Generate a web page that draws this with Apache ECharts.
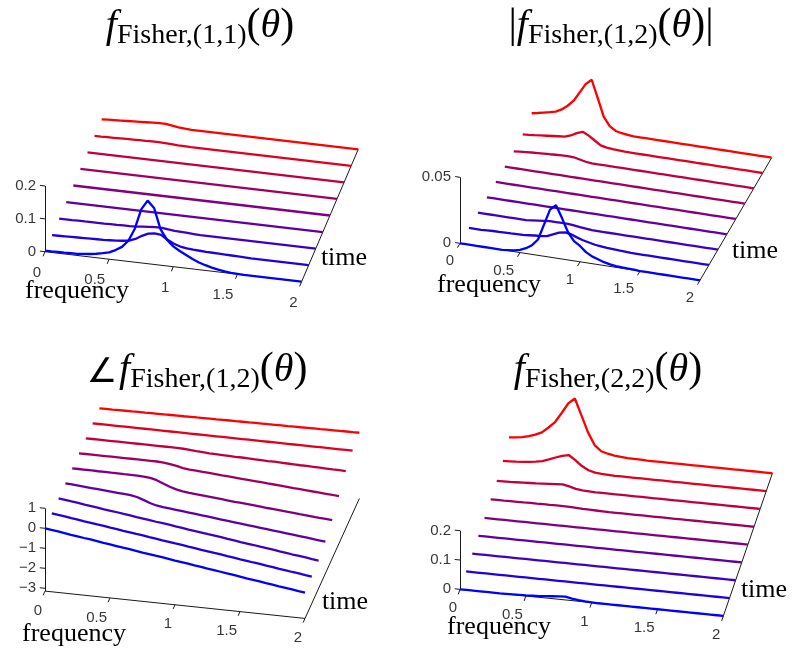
<!DOCTYPE html>
<html><head><meta charset="utf-8">
<script src="https://cdn.jsdelivr.net/npm/echarts@6/dist/echarts.min.js"></script>
<style>html,body{margin:0;padding:0;background:#fff}#c{width:794px;height:653px}</style>
</head><body><div id="c"></div>
<script>
// ---------------- data ----------------
const freq = [0,0.05,0.1,0.15,0.2,0.25,0.3,0.35,0.4,0.45,0.5,0.55,0.6,0.65,0.7,0.75,0.8,0.85,0.9,0.95,1,
  1.05,1.1,1.15,1.2,1.25,1.3,1.35,1.4,1.45,1.5,1.55,1.6,1.65,1.7,1.75,1.8,1.85,1.9,1.95,2];
const timeIndex = [0,1,2,3,4,5,6,7,8];
const freqTicks = [0,0.5,1,1.5,2];
const freqTickLabels = ['0','0.5','1','1.5','2'];
const ticks11 = [0,0.1,0.2];      const tickLabels11 = ['0','0.1','0.2'];
const ticks12abs = [0,0.05];      const tickLabels12abs = ['0','0.05'];
const ticks12ang = [-3,-2,-1,0,1]; const tickLabels12ang = ['\u22123','\u22122','\u22121','0','1'];
const ticks22 = [0,0.1,0.2];      const tickLabels22 = ['0','0.1','0.2'];

// f_Fisher,(1,1): one row per time step (t = 0 ... 8)
const fisher11 = [
 [0.003,0.003,0.004,0.004,0.005,0.005,0.007,0.009,0.012,0.016,0.021,0.03,0.042,0.063,0.102,0.163,0.192,0.172,0.11,0.08,0.062,0.05,0.04,0.03,0.022,0.016,0.011,0.007,0.004,0.002,0.001,0,0,0,0,0,0,0,0,0,0],
 [0,0.0005,0.001,0.0015,0.002,0.0025,0.003,0.0035,0.004,0.005,0.006,0.008,0.011,0.018,0.03,0.039,0.042,0.04,0.027,0.017,0.011,0.008,0.006,0.005,0.004,0.0035,0.003,0.0025,0.002,0.0015,0.001,0,0,0,0,0,0,0,0,0,0],
 [0,0,0,0.0005,0.0005,0.001,0.001,0.001,0.0015,0.0015,0.002,0.002,0.003,0.005,0.007,0.008,0.008,0.006,0.004,0.003,0.002,0.001,0,0,0,0,0,0,0,0,0,0,0,0,0,0,0,0,0,0,0],
 [0,0,0,0,0,0,0,0,0,0,0,0,0,0,0,0,0,0,0,0,0,0,0,0,0,0,0,0,0,0,0,0,0,0,0,0,0,0,0,0,0],
 [0,0,0,0,0,0,0,0,0,0,0,0,0,0,0,0,0,0,0,0,0,0,0,0,0,0,0,0,0,0,0,0,0,0,0,0,0,0,0,0,0],
 [0,0,0,0,0,0,0,0,0,0,0,0,0,0,0,0,0,0,0,0,0,0,0,0,0,0,0,0,0,0,0,0,0,0,0,0,0,0,0,0,0],
 [0,0,0,0,0,0,0,0,0,0,0,0,0,0,0,0,0,0,0,0,0,0,0,0,0,0,0,0,0,0,0,0,0,0,0,0,0,0,0,0,0],
 [0,0,0.0005,0.001,0.0015,0.002,0.0025,0.003,0.003,0.0035,0.0035,0.003,0.002,0.001,0.0005,0,0,0,0,0,0,0,0,0,0,0,0,0,0,0,0,0,0,0,0,0,0,0,0,0,0],
 [0,0.001,0.002,0.003,0.004,0.005,0.006,0.007,0.008,0.0088,0.009,0.006,0.003,0.001,0,0,0,0,0,0,0,0,0,0,0,0,0,0,0,0,0,0,0,0,0,0,0,0,0,0,0]
];
// |f_Fisher,(1,2)|
const fisher12abs = [
 [0,0,0,0,0,0,0,0,0.0005,0.001,0.002,0.004,0.007,0.012,0.024,0.036,0.04,0.031,0.021,0.015,0.012,0.008,0.0055,0.004,0.0025,0.0015,0.001,0.0007,0.0005,0.0003,0,0,0,0,0,0,0,0,0,0,0],
 [0,0,0,0.0003,0.0005,0.0005,0.0007,0.0008,0.001,0.001,0.0015,0.002,0.0022,0.003,0.005,0.007,0.0078,0.0072,0.0055,0.004,0.003,0.002,0.0015,0.001,0.0008,0.0005,0.0003,0,0,0,0,0,0,0,0,0,0,0,0,0,0],
 [0,0,0,0,0,0,0,0,0,0.0005,0.001,0.0015,0.002,0.002,0.002,0.002,0.0015,0.001,0.0005,0,0,0,0,0,0,0,0,0,0,0,0,0,0,0,0,0,0,0,0,0,0],
 [0,0,0,0,0,0,0,0,0,0,0,0,0,0,0,0,0,0,0,0,0,0,0,0,0,0,0,0,0,0,0,0,0,0,0,0,0,0,0,0,0],
 [0,0,0,0,0,0,0,0,0,0,0,0,0,0,0,0,0,0,0,0,0,0,0,0,0,0,0,0,0,0,0,0,0,0,0,0,0,0,0,0,0],
 [0,0,0,0,0,0,0,0,0,0,0,0,0,0,0,0,0,0,0,0,0,0,0,0,0,0,0,0,0,0,0,0,0,0,0,0,0,0,0,0,0],
 [0,0.0004,0.0008,0.0012,0.0015,0.0018,0.002,0.0023,0.0025,0.0027,0.0025,0.0015,0.0005,0,0,0,0,0,0,0,0,0,0,0,0,0,0,0,0,0,0,0,0,0,0,0,0,0,0,0,0],
 [0.0013,0.0016,0.002,0.0025,0.003,0.0035,0.004,0.0045,0.006,0.0085,0.0102,0.008,0.005,0.002,0.001,0.0006,0.0003,0,0,0,0,0,0,0,0,0,0,0,0,0,0,0,0,0,0,0,0,0,0,0,0],
 [0.0056,0.0065,0.0075,0.0085,0.0097,0.012,0.0155,0.02,0.027,0.034,0.038,0.025,0.0115,0.005,0.002,0.001,0.0005,0,0,0,0,0,0,0,0,0,0,0,0,0,0,0,0,0,0,0,0,0,0,0,0]
];
// angle of f_Fisher,(1,2)
const fisher12ang = [
 [0,-0.05,-0.09,-0.14,-0.19,-0.23,-0.28,-0.32,-0.37,-0.42,-0.46,-0.51,-0.56,-0.6,-0.65,-0.7,-0.74,-0.79,-0.83,-0.88,-0.93,-0.97,-1.02,-1.07,-1.11,-1.16,-1.2,-1.25,-1.3,-1.34,-1.39,-1.44,-1.48,-1.53,-1.58,-1.62,-1.67,-1.71,-1.76,-1.81,-1.85],
 [0,-0.05,-0.09,-0.14,-0.18,-0.23,-0.27,-0.32,-0.36,-0.41,-0.45,-0.5,-0.54,-0.59,-0.63,-0.68,-0.72,-0.77,-0.81,-0.86,-0.9,-0.95,-0.99,-1.04,-1.08,-1.13,-1.17,-1.22,-1.26,-1.31,-1.35,-1.4,-1.44,-1.49,-1.53,-1.58,-1.62,-1.67,-1.71,-1.76,-1.8],
 [0,-0.04,-0.09,-0.13,-0.18,-0.22,-0.26,-0.31,-0.35,-0.39,-0.44,-0.48,-0.53,-0.57,-0.61,-0.66,-0.7,-0.74,-0.79,-0.83,-0.88,-0.92,-0.96,-1.01,-1.05,-1.09,-1.14,-1.18,-1.23,-1.27,-1.31,-1.36,-1.4,-1.44,-1.49,-1.53,-1.58,-1.62,-1.66,-1.71,-1.75],
 [0,-0.025,-0.05,-0.075,-0.1,-0.125,-0.15,-0.175,-0.2,-0.225,-0.25,-0.31,-0.42,-0.54,-0.63,-0.68,-0.71,-0.745,-0.78,-0.815,-0.85,-0.885,-0.92,-0.955,-0.99,-1.025,-1.06,-1.095,-1.13,-1.165,-1.2,-1.235,-1.27,-1.305,-1.34,-1.375,-1.41,-1.445,-1.48,-1.515,-1.55],
 [0,0,-0.005,-0.005,-0.01,-0.01,-0.015,-0.015,-0.02,-0.02,-0.025,-0.035,-0.07,-0.15,-0.28,-0.41,-0.51,-0.57,-0.61,-0.64,-0.67,-0.7,-0.73,-0.76,-0.79,-0.82,-0.845,-0.87,-0.9,-0.93,-0.96,-0.985,-1.01,-1.04,-1.07,-1.1,-1.12,-1.15,-1.18,-1.2,-1.22],
 [0,0,0,0,0,0,0,0,0,0,0,0,0,-0.02,-0.06,-0.12,-0.19,-0.23,-0.25,-0.275,-0.3,-0.325,-0.35,-0.37,-0.395,-0.42,-0.445,-0.465,-0.49,-0.515,-0.535,-0.56,-0.585,-0.61,-0.63,-0.655,-0.68,-0.7,-0.725,-0.75,-0.77],
 [0,0,0,0,0,0,0,0,0,0,0,0,0,0,0,-0.01,-0.03,-0.06,-0.08,-0.1,-0.11,-0.12,-0.13,-0.14,-0.14,-0.15,-0.16,-0.17,-0.18,-0.18,-0.19,-0.2,-0.21,-0.22,-0.22,-0.23,-0.24,-0.25,-0.26,-0.26,-0.27],
 [0,0,0,0,0,0,0,0,0,0,0,0,0,0,0,0,0,0,0,0,0,0,0,0,0,0,0,0,0,0,0,0,0,0,0,0,0,0,0,0,0],
 [0,0.004,0.007,0.011,0.015,0.018,0.022,0.025,0.029,0.033,0.036,0.04,0.044,0.047,0.051,0.054,0.058,0.062,0.065,0.069,0.073,0.076,0.08,0.083,0.087,0.091,0.094,0.098,0.102,0.105,0.109,0.112,0.116,0.12,0.123,0.127,0.131,0.134,0.138,0.141,0.145]
];
// f_Fisher,(2,2)
const fisher22 = [
 [0,0,0,0,0,0,0,0.0005,0.001,0.0015,0.002,0.003,0.004,0.006,0.008,0.01,0.011,0.007,0.004,0.002,0.001,0,0,0,0,0,0,0,0,0,0,0,0,0,0,0,0,0,0,0,0],
 [0,0,0,0,0,0,0,0,0,0,0,0,0,0,0,0,0,0,0,0,0,0,0,0,0,0,0,0,0,0,0,0,0,0,0,0,0,0,0,0,0],
 [0,0,0,0,0,0,0,0,0,0,0,0,0,0,0,0,0,0,0,0,0,0,0,0,0,0,0,0,0,0,0,0,0,0,0,0,0,0,0,0,0],
 [0,0,0,0,0,0,0,0,0,0,0,0,0,0,0,0,0,0,0,0,0,0,0,0,0,0,0,0,0,0,0,0,0,0,0,0,0,0,0,0,0],
 [0,0,0,0,0,0,0,0,0,0,0,0,0,0,0,0,0,0,0,0,0,0,0,0,0,0,0,0,0,0,0,0,0,0,0,0,0,0,0,0,0],
 [0.003,0.003,0.003,0.0035,0.0035,0.0035,0.004,0.004,0.0045,0.0045,0.005,0.0045,0.004,0.003,0.002,0.0015,0.001,0.0005,0,0,0,0,0,0,0,0,0,0,0,0,0,0,0,0,0,0,0,0,0,0,0],
 [0.005,0.0055,0.006,0.007,0.008,0.009,0.01,0.0115,0.013,0.0145,0.016,0.011,0.005,0.002,0.001,0,0,0,0,0,0,0,0,0,0,0,0,0,0,0,0,0,0,0,0,0,0,0,0,0,0],
 [0.012,0.013,0.014,0.016,0.018,0.021,0.025,0.033,0.042,0.05,0.055,0.04,0.022,0.01,0.004,0.002,0.001,0,0,0,0,0,0,0,0,0,0,0,0,0,0,0,0,0,0,0,0,0,0,0,0],
 [0.032,0.034,0.037,0.043,0.05,0.06,0.079,0.1,0.133,0.168,0.187,0.132,0.076,0.035,0.016,0.01,0.006,0.0035,0.002,0.0015,0.001,0,0,0,0,0,0,0,0,0,0,0,0,0,0,0,0,0,0,0,0]
];

// ---------------- styles / layout ----------------
const traceColors = ['#0000ff','#2000df','#4000bf','#60009f','#800080','#9f0060','#bf0040','#df0020','#ff0000'];
const sansFont = 'Liberation Sans';
const serifFont = 'Liberation Serif';

// oblique 3-D view of each panel: origin, screen step per unit frequency, per time step, per unit value
const panels = [
  {vals: fisher11, ticks: ticks11, tickLabels: tickLabels11, O:[45,251.7], F:[128.3,15], T:[7.08,-16.55], V:-328.5, zmin:0, zmax:0.2,
   flOff:[-4,21], freqLab:[77,291], timeLab:[344,258]},
  {vals: fisher12abs, ticks: ticks12abs, tickLabels: tickLabels12abs, O:[460,243.3], F:[120,18.5], T:[8.96,-15.33], V:-1320, zmin:0, zmax:0.05,
   flOff:[-6,18], freqLab:[489,285], timeLab:[755,251]},
  {vals: fisher12ang, ticks: ticks12ang, tickLabels: tickLabels12ang, O:[45,528.3], F:[130,13.67], T:[6.8,-15.0], V:-20, zmin:-3.14, zmax:1,
   flOff:[-3,19.5], freqLab:[74,634], timeLab:[345,602]},
  {vals: fisher22, ticks: ticks22, tickLabels: tickLabels22, O:[460,589.3], F:[131.7,13.3], T:[6.125,-17.83], V:-293, zmin:0, zmax:0.2,
   flOff:[-3,19], freqLab:[499,627], timeLab:[764,590]}
];
function proj(p, f, t, v) {
  return [p.O[0] + f * p.F[0] + t * p.T[0], p.O[1] + f * p.F[1] + t * p.T[1] + v * p.V];
}

const series = [];
panels.forEach(p => {
  for (let t = timeIndex.length - 1; t >= 0; t--) {
    series.push({
      type: 'line', silent: true, symbol: 'none', z: 3,
      data: freq.map((f, i) => proj(p, f, timeIndex[t], p.vals[t][i])),
      lineStyle: {color: traceColors[t], width: 2.3}
    });
  }
  const segs = [
    {coords: [proj(p, 0, 0, p.zmin), proj(p, 2, 0, p.zmin)]},
    {coords: [proj(p, 2, 0, p.zmin), proj(p, 2, 8, p.zmin)]},
    {coords: [proj(p, 0, 0, p.zmin), proj(p, 0, 0, p.zmax)]}
  ];
  freqTicks.forEach(f => segs.push({coords: [proj(p, f, 0, p.zmin), proj(p, f, -0.28, p.zmin)]}));
  p.ticks.forEach(z => segs.push({coords: [proj(p, 0, 0, z), proj(p, -0.04, 0, z)]}));
  series.push({type: 'lines', coordinateSystem: 'cartesian2d', silent: true, z: 2, data: segs,
    lineStyle: {color: '#1a1a1a', width: 1, opacity: 1, curveness: 0}});
  series.push({type: 'scatter', silent: true, symbolSize: 0, z: 4,
    data: freqTicks.map((f, i) => ({name: freqTickLabels[i], value: proj(p, f, 0, p.zmin)})),
    label: {show: true, formatter: '{b}', position: p.flOff, align: 'right', verticalAlign: 'middle',
      fontFamily: sansFont, fontSize: 15, color: '#000'}});
  series.push({type: 'scatter', silent: true, symbolSize: 0, z: 4,
    data: p.ticks.map((z, i) => ({name: p.tickLabels[i], value: proj(p, 0, 0, z)})),
    label: {show: true, formatter: '{b}', position: 'left', distance: 9,
      fontFamily: sansFont, fontSize: 15, color: '#000'}});
});

const richBase = {
  f:  {fontFamily: serifFont, fontStyle: 'italic', fontWeight: 'normal', fontSize: 40, lineHeight: 48, verticalAlign: 'middle', color: '#000'},
  s:  {fontFamily: serifFont, fontWeight: 'normal', fontSize: 28, lineHeight: 48, verticalAlign: 'bottom', color: '#000'},
  p:  {fontFamily: serifFont, fontWeight: 'normal', fontSize: 42, lineHeight: 48, verticalAlign: 'middle', color: '#000'},
  th: {fontFamily: serifFont, fontStyle: 'italic', fontWeight: 'normal', fontSize: 40, lineHeight: 48, verticalAlign: 'middle', color: '#000'},
  a:  {fontFamily: 'DejaVu Sans', fontWeight: 'normal', fontSize: 34, lineHeight: 48, verticalAlign: 'bottom', color: '#000', padding: [0, 2, 4, 0]}
};
const titles = [
  {text: '{f|f}{s|Fisher,(1,1)}{p|(}{th|θ}{p|)}', x: 200, y: 2},
  {text: '{p||}{f|f}{s|Fisher,(1,2)}{p|(}{th|θ}{p|)|}', x: 611, y: 2},
  {text: '{a|\u2220}{f|f}{s|Fisher,(1,2)}{p|(}{th|θ}{p|)}', x: 197, y: 346},
  {text: '{f|f}{s|Fisher,(2,2)}{p|(}{th|θ}{p|)}', x: 608, y: 346}
];

const graphic = [];
panels.forEach(p => {
  graphic.push({type: 'text', x: p.freqLab[0], y: p.freqLab[1], silent: true,
    style: {text: 'frequency', font: '26px "' + serifFont + '"', fill: '#000', align: 'center', verticalAlign: 'middle', textAlign: 'center', textVerticalAlign: 'middle'}});
  graphic.push({type: 'text', x: p.timeLab[0], y: p.timeLab[1], silent: true,
    style: {text: 'time', font: '26px "' + serifFont + '"', fill: '#000', align: 'center', verticalAlign: 'middle', textAlign: 'center', textVerticalAlign: 'middle'}});
});

const chart = echarts.init(document.getElementById('c'), null, {renderer: 'canvas'});
chart.setOption({
  animation: false,
  backgroundColor: '#fff',
  title: titles.map(t => ({text: t.text, left: t.x, top: t.y, textAlign: 'center', padding: 0,
    textStyle: {fontWeight: 'normal', fontFamily: serifFont, rich: richBase}})),
  grid: {left: 0, top: 0, width: 794, height: 653, containLabel: false},
  xAxis: {type: 'value', min: 0, max: 794, show: false},
  yAxis: {type: 'value', min: 0, max: 653, inverse: true, show: false},
  graphic: graphic,
  series: series
});
</script>
</body></html>
